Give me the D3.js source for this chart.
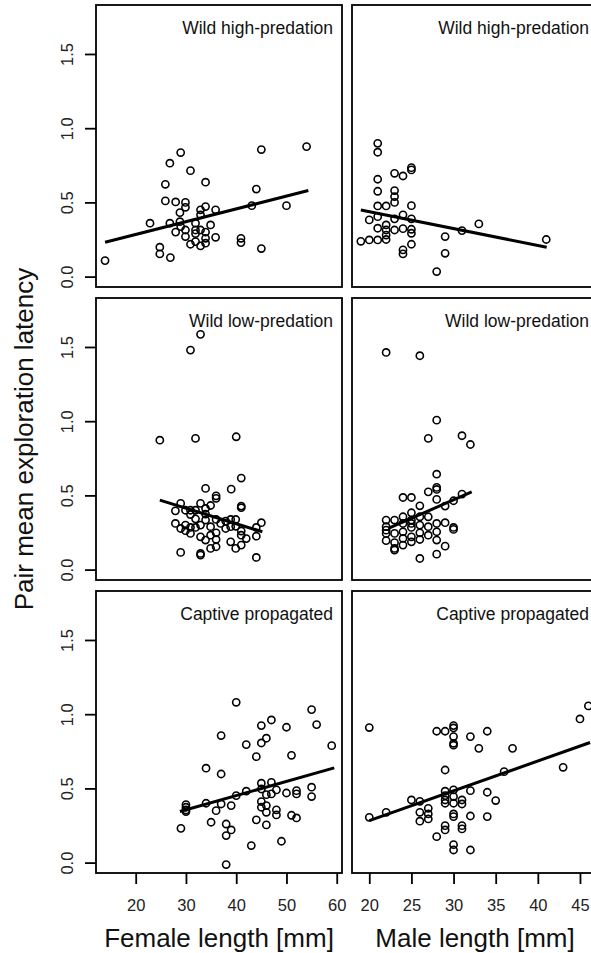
<!DOCTYPE html>
<html>
<head>
<meta charset="utf-8">
<script src="https://cdn.jsdelivr.net/npm/d3@7/dist/d3.min.js"></script>
<style>
  html, body { margin: 0; padding: 0; background: #fff; }
  svg { display: block; font-family: "Liberation Sans", Arial, sans-serif; }
</style>
</head>
<body>
<div id="chart"></div>
<script>
// Pair mean exploration latency against body length, by population type.
const groups = ["Wild high-predation", "Wild low-predation", "Captive propagated"];

// Wild high-predation
const hpFemaleLen = [13.9,22.85,24.8,24.8,26.9,25.9,26.8,28.95,30.9,33.9,25.9,27.95,29.9,29.9,28.8,26.8,28.8,28.95,27.95,29.9,29.9,30.9,31.9,31.9,31.9,32.9,32.9,33.9,35.9,32.9,33.9,34.9,32.9,33.9,31.9,33.9,35.9,40.95,40.95,43.1,44.0,45.0,45.0,50.0,54.0];
const hpFemaleLat = [0.108,0.36,0.198,0.153,0.128,0.622,0.764,0.836,0.714,0.636,0.51,0.503,0.50,0.467,0.431,0.36,0.37,0.337,0.30,0.314,0.27,0.218,0.314,0.29,0.36,0.45,0.416,0.472,0.45,0.314,0.30,0.348,0.207,0.225,0.236,0.258,0.265,0.258,0.229,0.478,0.59,0.856,0.189,0.478,0.876];
const hpMaleLen = [21,21,21,21,21,22,23,24,25,25,23,23,23,25,19,20,21,20,21,22,21,22,22,22,23,23,24,24,25,25,25,25,24,24,29,29,28,31,33,41];
const hpMaleLat = [0.898,0.838,0.656,0.575,0.476,0.476,0.696,0.678,0.734,0.719,0.58,0.539,0.50,0.478,0.238,0.247,0.247,0.382,0.404,0.348,0.326,0.314,0.28,0.25,0.389,0.314,0.416,0.323,0.389,0.319,0.292,0.218,0.18,0.153,0.27,0.157,0.034,0.31,0.355,0.25];

// Wild low-predation
const lpFemaleLen = [24.8,30.9,32.9,31.9,40,41,33.9,39,36,36,41,41,28.95,27.9,30.9,31.9,32.9,33.9,34.9,29.9,30.9,33.9,27.9,28.95,29.9,30.9,30.9,31.9,32.9,32.9,33.9,34.9,34.9,36,36,36,36,34.9,33.9,36.9,37.9,38.9,38.9,39.9,39.9,38.9,39.9,41,41,42,44,44,45,44,28.95,32.9,32.9,29.9,41,31.9,37.9];
const lpFemaleLat = [0.872,1.479,1.585,0.884,0.895,0.617,0.547,0.542,0.497,0.48,0.428,0.417,0.446,0.396,0.40,0.40,0.446,0.412,0.432,0.40,0.371,0.374,0.311,0.277,0.262,0.284,0.244,0.284,0.30,0.221,0.334,0.289,0.232,0.338,0.248,0.203,0.154,0.143,0.199,0.311,0.327,0.338,0.289,0.338,0.292,0.187,0.143,0.165,0.232,0.209,0.225,0.284,0.316,0.082,0.116,0.098,0.109,0.30,0.26,0.342,0.277];
const lpMaleLen = [22,26,28,27,31,32,28,28,28,27,28,24,25,26,29,30,31,22,22,22,22,23,23,23,24,24,24,24,24,25,25,25,25,25,26,26,26,26,26,27,27,27,28,28,28,28,29,29,30,30,23,23,25,22];
const lpMaleLat = [1.463,1.441,1.007,0.884,0.902,0.843,0.643,0.554,0.54,0.524,0.473,0.486,0.486,0.43,0.428,0.464,0.509,0.334,0.289,0.244,0.195,0.182,0.132,0.143,0.356,0.311,0.255,0.21,0.165,0.383,0.334,0.284,0.221,0.187,0.356,0.30,0.248,0.203,0.075,0.356,0.289,0.232,0.311,0.255,0.199,0.104,0.316,0.158,0.284,0.271,0.334,0.244,0.311,0.266];

// Captive propagated
const cpFemaleLen = [29,30,30,30,30,34,34,37,37,40,35,36,37,38,38,38,39,39,40,42,42,43,44,44,45,45,45,45,45,46,46,46,46,46,47,47,47,48,48,48,49,50,50,51,51,52,52,52,55,55,55,56,59,45];
const cpFemaleLat = [0.231,0.391,0.373,0.355,0.344,0.40,0.636,0.597,0.856,1.08,0.272,0.35,0.395,0.26,0.182,-0.013,0.22,0.384,0.451,0.481,0.795,0.115,0.714,0.288,0.535,0.411,0.373,0.806,0.923,0.838,0.458,0.384,0.339,0.254,0.961,0.541,0.463,0.49,0.355,0.321,0.144,0.912,0.469,0.723,0.319,0.485,0.463,0.301,1.031,0.508,0.445,0.93,0.788,0.496];
const cpMaleLen = [20,20,22,25,26,26,26,27,27,27,28,29,30,30,30,30,30,32,34,33,37,29,36,43,45,46,28,29,29,29,29,29,29,30,30,30,30,30,30,30,31,31,31,31,32,32,32,34,34,35];
const cpMaleLat = [0.91,0.305,0.339,0.422,0.413,0.339,0.279,0.366,0.328,0.294,0.885,0.885,0.923,0.907,0.849,0.804,0.791,0.849,0.885,0.77,0.77,0.624,0.613,0.642,0.968,1.056,0.175,0.481,0.451,0.422,0.40,0.249,0.22,0.49,0.445,0.40,0.328,0.31,0.121,0.085,0.422,0.395,0.249,0.227,0.485,0.314,0.085,0.474,0.31,0.418];

// Fitted regression lines: [x start, latency at start, x end, latency at end]
const femaleFits = [[13.9, 0.231, 54.35, 0.58], [24.8, 0.468, 45.2, 0.255], [28.8, 0.344, 59.5, 0.638]];
const maleFits = [[19.0, 0.449, 41.05, 0.198], [22.26, 0.277, 32.15, 0.524], [20.0, 0.283, 46.2, 0.809]];

const latencyTicks = [0, 0.5, 1.0, 1.5];
const femaleTicks = [20, 30, 40, 50, 60];
const maleTicks = [20, 25, 30, 35, 40, 45];
const xTitles = ["Female length [mm]", "Male length [mm]"];
const yTitle = "Pair mean exploration latency";

const panelData = [
  [[hpFemaleLen, hpFemaleLat], [hpMaleLen, hpMaleLat]],
  [[lpFemaleLen, lpFemaleLat], [lpMaleLen, lpMaleLat]],
  [[cpFemaleLen, cpFemaleLat], [cpMaleLen, cpMaleLat]]
];
const fits = [femaleFits, maleFits];

const W = 591, H = 953;
const panelW = 246, panelH = 282;
const colLeft = [96, 352];
const rowTop = [5, 298, 591];

const svg = d3.select("#chart").append("svg")
  .attr("width", W).attr("height", H);

const xScales = [
  d3.scaleLinear().domain([12.1, 61.05]).range([0, panelW]),
  d3.scaleLinear().domain([17.95, 47.14]).range([0, panelW])
];
const y = d3.scaleLinear().domain([-0.07, 1.83]).range([panelH, 0]);
const xTickVals = [femaleTicks, maleTicks];

const ink = "#000";

groups.forEach((name, r) => {
  [0, 1].forEach(c => {
    const g = svg.append("g")
      .attr("transform", `translate(${colLeft[c]},${rowTop[r]})`);
    const x = xScales[c];
    const [xs, ys] = panelData[r][c];
    const pts = xs.map((v, i) => [v, ys[i]]);

    // points
    g.selectAll("circle").data(pts).join("circle")
      .attr("cx", d => x(d[0]))
      .attr("cy", d => y(d[1]))
      .attr("r", 3.6)
      .attr("fill", "none")
      .attr("stroke", ink)
      .attr("stroke-width", 1.6);

    // regression line
    const f = fits[c][r];
    g.append("line")
      .attr("x1", x(f[0])).attr("y1", y(f[1]))
      .attr("x2", x(f[2])).attr("y2", y(f[3]))
      .attr("stroke", ink).attr("stroke-width", 3)
      .attr("stroke-linecap", "butt");

    // frame
    g.append("rect")
      .attr("width", panelW).attr("height", panelH)
      .attr("fill", "none").attr("stroke", ink).attr("stroke-width", 1.8);

    // group label
    g.append("text")
      .attr("x", panelW - 9).attr("y", 29)
      .attr("text-anchor", "end")
      .attr("font-size", 17.5)
      .attr("fill", "#111")
      .text(name);

    // latency axis on the left column
    if (c === 0) {
      const ax = g.append("g").call(
        d3.axisLeft(y).tickValues(latencyTicks).tickSize(11).tickPadding(0)
          .tickFormat(d3.format(".1f")));
      ax.select(".domain").remove();
      ax.selectAll(".tick line").attr("stroke", ink).attr("stroke-width", 1.8);
      ax.selectAll(".tick text")
        .attr("x", null).attr("dy", null)
        .attr("transform", "translate(-23,0) rotate(-90)")
        .attr("text-anchor", "middle")
        .attr("font-size", 16.5)
        .attr("font-family", "Liberation Sans, Arial, sans-serif")
        .attr("fill", "#222");
    }

    // length axis on the bottom row
    if (r === 2) {
      const ax = g.append("g")
        .attr("transform", `translate(0,${panelH})`)
        .call(d3.axisBottom(x).tickValues(xTickVals[c]).tickSize(11).tickPadding(0));
      ax.select(".domain").remove();
      ax.selectAll(".tick line").attr("stroke", ink).attr("stroke-width", 1.8);
      ax.selectAll(".tick text")
        .attr("y", 38).attr("dy", null)
        .attr("font-size", 16.5)
        .attr("font-family", "Liberation Sans, Arial, sans-serif")
        .attr("fill", "#222");

      svg.append("text")
        .attr("x", colLeft[c] + panelW / 2)
        .attr("y", 947)
        .attr("text-anchor", "middle")
        .attr("font-size", 26)
        .attr("fill", "#111")
        .text(xTitles[c]);
    }
  });
});

svg.append("text")
  .attr("transform", `translate(33,${rowTop[0] + (rowTop[2] + panelH - rowTop[0]) / 2}) rotate(-90)`)
  .attr("text-anchor", "middle")
  .attr("font-size", 26)
  .attr("fill", "#111")
  .text(yTitle);
</script>
</body>
</html>
